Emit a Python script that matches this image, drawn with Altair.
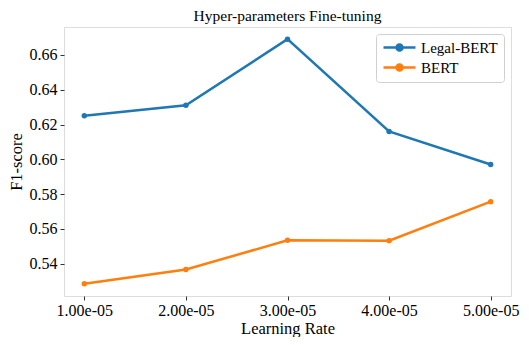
import altair as alt
import pandas as pd

learning_rates = [1e-5, 2e-5, 3e-5, 4e-5, 5e-5]
legal_bert = [0.625, 0.631, 0.669, 0.616, 0.597]
bert = [0.5285, 0.5367, 0.5535, 0.5533, 0.5757]
series_names = ["Legal-BERT", "BERT"]
colors = ["#1f77b4", "#ff7f0e"]
y_ticks = [0.54, 0.56, 0.58, 0.60, 0.62, 0.64, 0.66]

rows = []
for name, vals in zip(series_names, [legal_bert, bert]):
    for lr, v in zip(learning_rates, vals):
        rows.append({"lr": lr, "f1": v, "model": name})
df = pd.DataFrame(rows)

FONT = "Liberation Serif"
# legend glyph: a short line with a dot in the middle (matplotlib style)
legend_symbol = ("M-1,0 L4.33,0 M1.17,0 A0.5,0.5 0 1,1 2.17,0 "
                 "A0.5,0.5 0 1,1 1.17,0 Z")

axis_style = dict(grid=False, tickSize=4,
                  labelFontSize=16, titleFontSize=16.5, labelFont=FONT, titleFont=FONT,
                  labelColor="black", titleColor="black", titleFontWeight="normal",
                  domain=False, tickColor="#333")

base = alt.Chart(df).encode(
    x=alt.X("lr:Q", title="Learning Rate",
            scale=alt.Scale(domain=[0.8e-5, 5.2e-5], nice=False, zero=False),
            axis=alt.Axis(values=learning_rates,
                          labelExpr="replace(format(datum.value, '.2e'), 'e-5', 'e-05')",
                          labelPadding=2, titlePadding=2, **axis_style)),
    y=alt.Y("f1:Q", title="F1-score",
            scale=alt.Scale(domain=[0.5215, 0.676], nice=False, zero=False),
            axis=alt.Axis(values=y_ticks, format=".2f", labelPadding=3,
                          titlePadding=5, **axis_style)),
    color=alt.Color("model:N", sort=series_names,
                    scale=alt.Scale(domain=series_names, range=colors),
                    legend=alt.Legend(title=None, orient="top-right", offset=7,
                                      symbolType=legend_symbol, symbolSize=144,
                                      symbolStrokeWidth=2.5,
                                      labelFont=FONT, labelFontSize=15,
                                      labelColor="black",
                                      rowPadding=3, padding=6, labelOffset=24,
                                      strokeColor="#d0d0d0", fillColor="white",
                                      cornerRadius=3)),
)

lines = base.mark_line(strokeWidth=2.5)
points = base.mark_circle(size=30, opacity=1)

chart = (lines + points).properties(
    width=514, height=329,
    autosize=alt.AutoSizeParams(type="fit", contains="padding"),
    padding={"left": 0, "top": 0, "right": 6, "bottom": 0},
    title=alt.TitleParams("Hyper-parameters Fine-tuning", font=FONT, fontSize=15.5,
                          fontWeight="normal", color="black", offset=3),
).configure_view(stroke="#333", strokeWidth=1.2
).configure(font=FONT
).configure_legend(labelFont=FONT)

chart.save("out.html", embed_options={"renderer": "svg", "actions": False})
